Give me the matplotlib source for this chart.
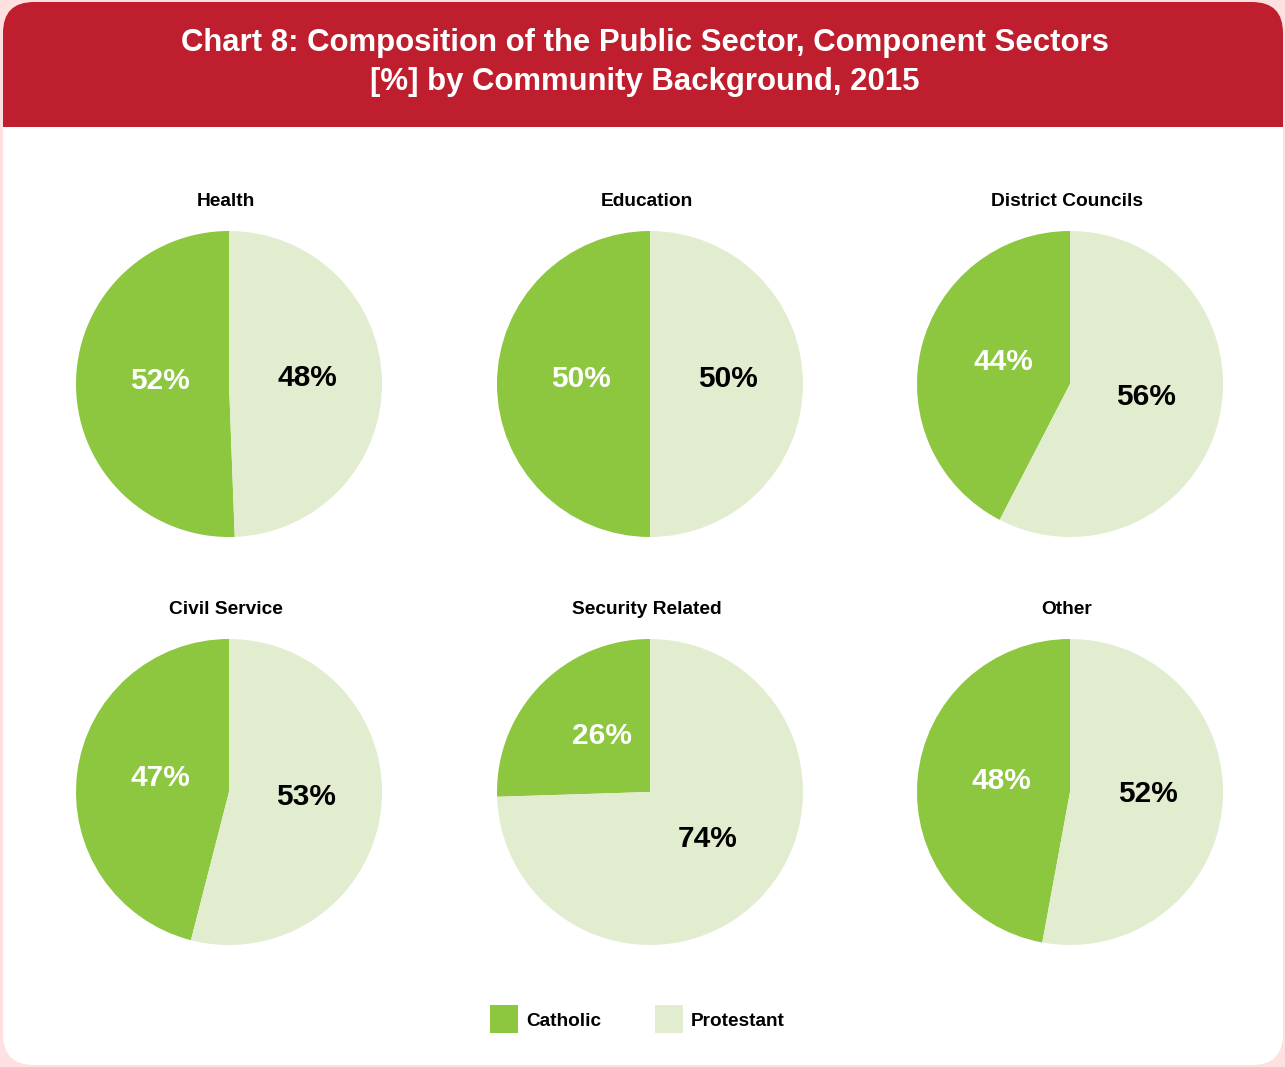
import matplotlib.pyplot as plt
from matplotlib.patches import FancyBboxPatch, Rectangle

plt.rcParams['font.family'] = ['Liberation Sans', 'DejaVu Sans']

sectors = ["Health", "Education", "District Councils",
           "Civil Service", "Security Related", "Other"]
# wedge sizes as drawn in the picture (unrounded shares)
catholic = [50.6, 50.0, 42.4, 46.0, 25.5, 47.1]
protestant = [49.4, 50.0, 57.6, 54.0, 74.5, 52.9]
# percentages printed on the wedges
catholic_lbl = [52, 50, 44, 47, 26, 48]
protestant_lbl = [48, 50, 56, 53, 74, 52]
groups = ["Catholic", "Protestant"]

green = "#8dc63f"
light = "#e2edcf"
red = "#be1e2d"

W, H = 1285, 1067
fig = plt.figure(figsize=(W / 100, H / 100), dpi=100)
fig.patch.set_facecolor("#fde0df")

def fx(px):
    return px / W

def fy(py):
    return 1 - py / H

# card with red header (drawn below the axes)
card = FancyBboxPatch((fx(3), fy(1065)), fx(1283) - fx(3), fy(2) - fy(1065),
                      boxstyle="round,pad=0,rounding_size=0.024",
                      transform=fig.transFigure, facecolor="white",
                      edgecolor="none", mutation_aspect=W / H, zorder=-10)
fig.patches.append(card)
head = FancyBboxPatch((fx(3), fy(170)), fx(1283) - fx(3), fy(2) - fy(170),
                      boxstyle="round,pad=0,rounding_size=0.024",
                      transform=fig.transFigure, facecolor=red,
                      edgecolor="none", mutation_aspect=W / H, zorder=-9)
fig.patches.append(head)
fig.patches.append(Rectangle((fx(3), fy(175)), fx(1283) - fx(3), fy(127) - fy(175),
                             transform=fig.transFigure, facecolor="white",
                             edgecolor="none", zorder=-8))

fig.text(0.502, fy(43), "Chart 8: Composition of the Public Sector, Component Sectors",
         ha="center", va="center", color="white", fontsize=22.4, fontweight="bold")
fig.text(0.502, fy(82), "[%] by Community Background, 2015",
         ha="center", va="center", color="white", fontsize=22.4, fontweight="bold")

cx = [229, 650, 1070]
cy = [384, 792]
r = 153

for i, name in enumerate(sectors):
    x0 = cx[i % 3]
    y0 = cy[i // 3]
    ax = fig.add_axes([fx(x0 - r), fy(y0 + r), fx(2 * r), 2 * r / H])
    labels = ["%d%%" % catholic_lbl[i], "%d%%" % protestant_lbl[i]]
    wedges, texts = ax.pie(
        [catholic[i], protestant[i]], colors=[green, light], startangle=90,
        counterclock=True, radius=1, labels=labels, labeldistance=0.48,
        wedgeprops=dict(linewidth=0),
        textprops=dict(fontsize=21.5, fontweight="bold"))
    for t, col in zip(texts, ["white", "black"]):
        t.set_color(col)
        t.set_ha("center")
        t.set_va("center")
        px, py = t.get_position()
        t.set_position((px + 0.03, py + 0.03))
    ax.set_xlim(-1, 1)
    ax.set_ylim(-1, 1)
    ax.set_aspect("equal")
    ax.axis("off")
    fig.text(fx(x0 - 3), fy(y0 - 182), name, ha="center", va="center",
             fontsize=13.8, fontweight="bold")

# legend
for j, (g, c) in enumerate(zip(groups, [green, light])):
    lx = [490, 655][j]
    fig.patches.append(Rectangle((fx(lx), fy(1033)), 28 / W, 28 / H,
                                 transform=fig.transFigure, facecolor=c,
                                 edgecolor="none"))
    fig.text(fx(lx + 36), fy(1021), g, ha="left", va="center",
             fontsize=13.7, fontweight="bold")

fig.savefig("out.png", dpi=100, facecolor=fig.get_facecolor())
